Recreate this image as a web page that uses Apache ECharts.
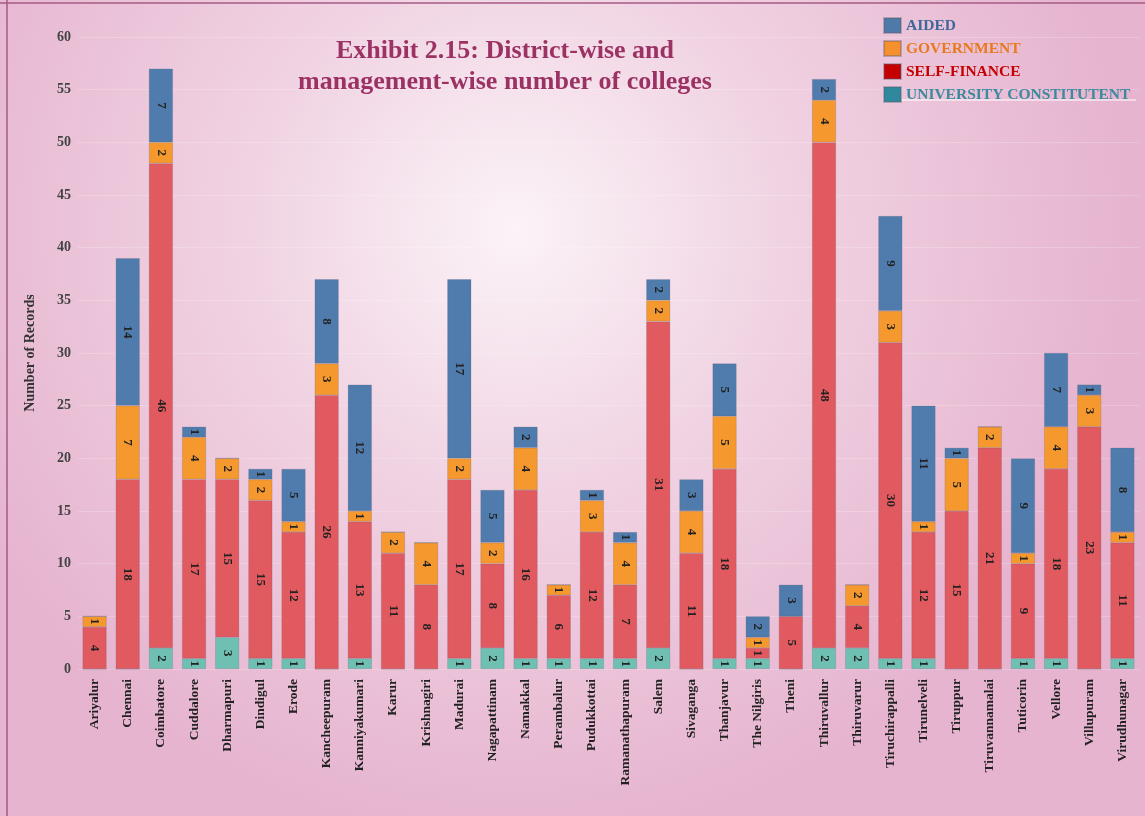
<!DOCTYPE html>
<html>
<head>
<meta charset="utf-8">
<script src="https://cdn.jsdelivr.net/npm/echarts@6/dist/echarts.min.js"></script>
<style>
html,body{margin:0;padding:0;}
#c{width:1145px;height:816px;}
</style>
</head>
<body>
<div id="c"></div>
<script>
const districts = ["Ariyalur","Chennai","Coimbatore","Cuddalore","Dharmapuri","Dindigul","Erode","Kancheepuram","Kanniyakumari","Karur","Krishnagiri","Madurai","Nagapattinam","Namakkal","Perambalur","Pudukkottai","Ramanathapuram","Salem","Sivaganga","Thanjavur","The Nilgiris","Theni","Thiruvallur","Thiruvarur","Tiruchirappalli","Tirunelveli","Tiruppur","Tiruvannamalai","Tuticorin","Vellore","Villupuram","Virudhunagar"];
const universityConstituent = [0,0,2,1,3,1,1,0,1,0,0,1,2,1,1,1,1,2,0,1,1,0,2,2,1,1,0,0,1,1,0,1];
const selfFinance = [4,18,46,17,15,15,12,26,13,11,8,17,8,16,6,12,7,31,11,18,1,5,48,4,30,12,15,21,9,18,23,11];
const government = [1,7,2,4,2,2,1,3,1,2,4,2,2,4,1,3,4,2,4,5,1,0,4,2,3,1,5,2,1,4,3,1];
const aided = [0,14,7,1,0,1,5,8,12,0,0,17,5,2,0,1,1,2,3,5,2,3,2,0,9,11,1,0,9,7,1,8];
const yTicks = [0,5,10,15,20,25,30,35,40,45,50,55,60];

const chart = echarts.init(document.getElementById('c'));
const serif = '"Liberation Serif","DejaVu Serif",serif';
const lbl = {
  show: true, position: 'inside', rotate: -90,
  fontFamily: serif, fontWeight: 'bold', fontSize: 13, color: '#222',
  formatter: p => p.value ? String(p.value) : ''
};
function mk(name, data, color) {
  return {
    name, type: 'bar', stack: 'total', data, barWidth: 24,
    itemStyle: { color, borderColor: 'rgba(90,90,110,0.35)', borderWidth: 0.6 },
    label: lbl
  };
}
chart.setOption({
  animation: false,
  backgroundColor: {
    type: 'radial', x: 0.45, y: 0.28, r: 0.75,
    colorStops: [
      { offset: 0, color: '#fbf3f7' },
      { offset: 0.45, color: '#f0d2e2' },
      { offset: 1, color: '#e6b4cf' }
    ]
  },
  graphic: [
    { type: 'line', shape: { x1: 7, y1: 0, x2: 7, y2: 816 }, style: { stroke: '#a65a84', lineWidth: 1.5 } },
    { type: 'line', shape: { x1: 0, y1: 3, x2: 1145, y2: 3 }, style: { stroke: '#a65a84', lineWidth: 1.5 } },
    { type: 'line', shape: { x1: 902, y1: 100, x2: 1136, y2: 100 }, style: { stroke: '#ffffff', lineWidth: 1 } }
  ],
  title: {
    text: 'Exhibit 2.15: District-wise and\nmanagement-wise number of colleges',
    left: 500, top: 31, textAlign: 'center',
    textStyle: { fontFamily: serif, fontWeight: 'bold', fontSize: 26, color: '#9c3264', lineHeight: 31 }
  },
  legend: {
    orient: 'vertical', left: 878, top: 12, itemGap: 6, itemWidth: 17, itemHeight: 15,
    textStyle: { fontFamily: serif, fontWeight: 'bold', fontSize: 15.5 },
    data: [
      { name: 'AIDED', icon: 'rect', itemStyle: { color: '#4f7aa8' }, textStyle: { color: '#3f689a' } },
      { name: 'GOVERNMENT', icon: 'rect', itemStyle: { color: '#f5902c' }, textStyle: { color: '#e67a1e' } },
      { name: 'SELF-FINANCE', icon: 'rect', itemStyle: { color: '#c40000' }, textStyle: { color: '#c40000' } },
      { name: 'UNIVERSITY CONSTITUTENT', icon: 'rect', itemStyle: { color: '#2f889c' }, textStyle: { color: '#3b8a9e' } }
    ]
  },
  grid: { left: 78, right: 6, top: 37, bottom: 147 },
  xAxis: {
    type: 'category', data: districts,
    axisLine: { show: false }, axisTick: { show: false },
    axisLabel: { rotate: 90, interval: 0, fontFamily: serif, fontWeight: 'bold', fontSize: 13.5, color: '#222', margin: 10 }
  },
  yAxis: {
    type: 'value', min: 0, max: 60, interval: 5,
    name: 'Number of Records', nameLocation: 'middle', nameGap: 41, nameRotate: 90,
    nameTextStyle: { fontFamily: serif, fontWeight: 'bold', fontSize: 14, color: '#333' },
    axisLine: { show: false }, axisTick: { show: false },
    axisLabel: { fontFamily: serif, fontWeight: 'bold', fontSize: 14, color: '#444', margin: 7,
      formatter: v => yTicks.includes(v) ? String(v) : '' },
    splitLine: { lineStyle: { color: 'rgba(255,255,255,0.2)', width: 1 } }
  },
  series: [
    mk('UNIVERSITY CONSTITUTENT', universityConstituent, '#6fc0b3'),
    mk('SELF-FINANCE', selfFinance, '#e15a60'),
    mk('GOVERNMENT', government, '#f5982e'),
    mk('AIDED', aided, '#4f7cad')
  ]
});
</script>
</body>
</html>
